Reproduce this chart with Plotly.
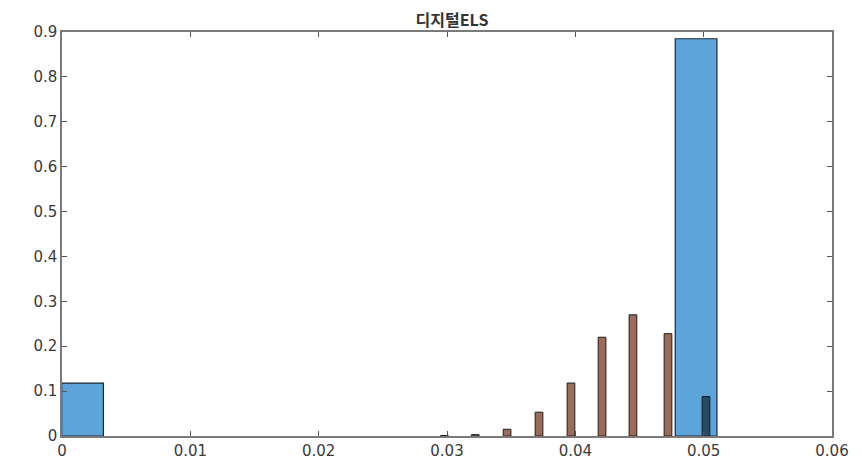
import plotly.graph_objects as go

title_text = "디지털ELS"

# Blue histogram (probability), bins of width ~0.0032
blue_x = [0.0016, 0.04941]
blue_y = [0.118, 0.885]
blue_w = 0.00325

# Brown histogram (probability), narrow bins
brown_x = [0.0298, 0.0322, 0.03468, 0.03717, 0.03966, 0.04208, 0.04449, 0.04722, 0.05018]
brown_y = [0.001, 0.003, 0.015, 0.053, 0.118, 0.220, 0.270, 0.228, 0.088]
brown_w = 0.0006

x_ticks = [0, 0.01, 0.02, 0.03, 0.04, 0.05, 0.06]
x_labels = ["0", "0.01", "0.02", "0.03", "0.04", "0.05", "0.06"]
y_ticks = [0, 0.1, 0.2, 0.3, 0.4, 0.5, 0.6, 0.7, 0.8, 0.9]
y_labels = ["0", "0.1", "0.2", "0.3", "0.4", "0.5", "0.6", "0.7", "0.8", "0.9"]

brown_colors = ["rgb(155,108,92)"] * (len(brown_x) - 1) + ["rgb(40,75,100)"]

fig = go.Figure()
fig.add_trace(go.Bar(x=blue_x, y=blue_y, width=[blue_w] * len(blue_x),
                     marker=dict(color="rgb(92,164,218)",
                                 line=dict(color="rgb(30,40,50)", width=1.2))))
fig.add_trace(go.Bar(x=brown_x, y=brown_y, width=[brown_w] * len(brown_x),
                     marker=dict(color=brown_colors,
                                 line=dict(color="rgb(30,30,30)", width=1))))

fig.update_layout(
    width=854, height=454,
    margin=dict(l=54, r=30, t=24, b=26, autoexpand=False),
    barmode="overlay", showlegend=False,
    plot_bgcolor="white", paper_bgcolor="white",
    title=dict(text="<b>" + title_text + "</b>", x=444 / 854, xanchor="center",
               y=1 - 12 / 454, yanchor="middle",
               font=dict(family="Noto Sans CJK KR, Liberation Sans, sans-serif", size=16, color="#333")),
    font=dict(family="DejaVu Sans, Liberation Sans, sans-serif", size=15, color="#3a3a3a"),
)
fig.update_xaxes(range=[0, 0.06], tickvals=x_ticks, ticktext=x_labels, automargin=False,
                 showgrid=False, zeroline=False, showline=True, linecolor="#7a7a7a", linewidth=1.5,
                 mirror="ticks", ticks="inside", ticklen=5, tickcolor="#555")
fig.update_yaxes(range=[0, 0.9], tickvals=y_ticks, ticktext=y_labels, automargin=False,
                 showgrid=False, zeroline=False, showline=True, linecolor="#7a7a7a", linewidth=1.5,
                 mirror="ticks", ticks="inside", ticklen=5, tickcolor="#555")

fig.write_html("out.html")
